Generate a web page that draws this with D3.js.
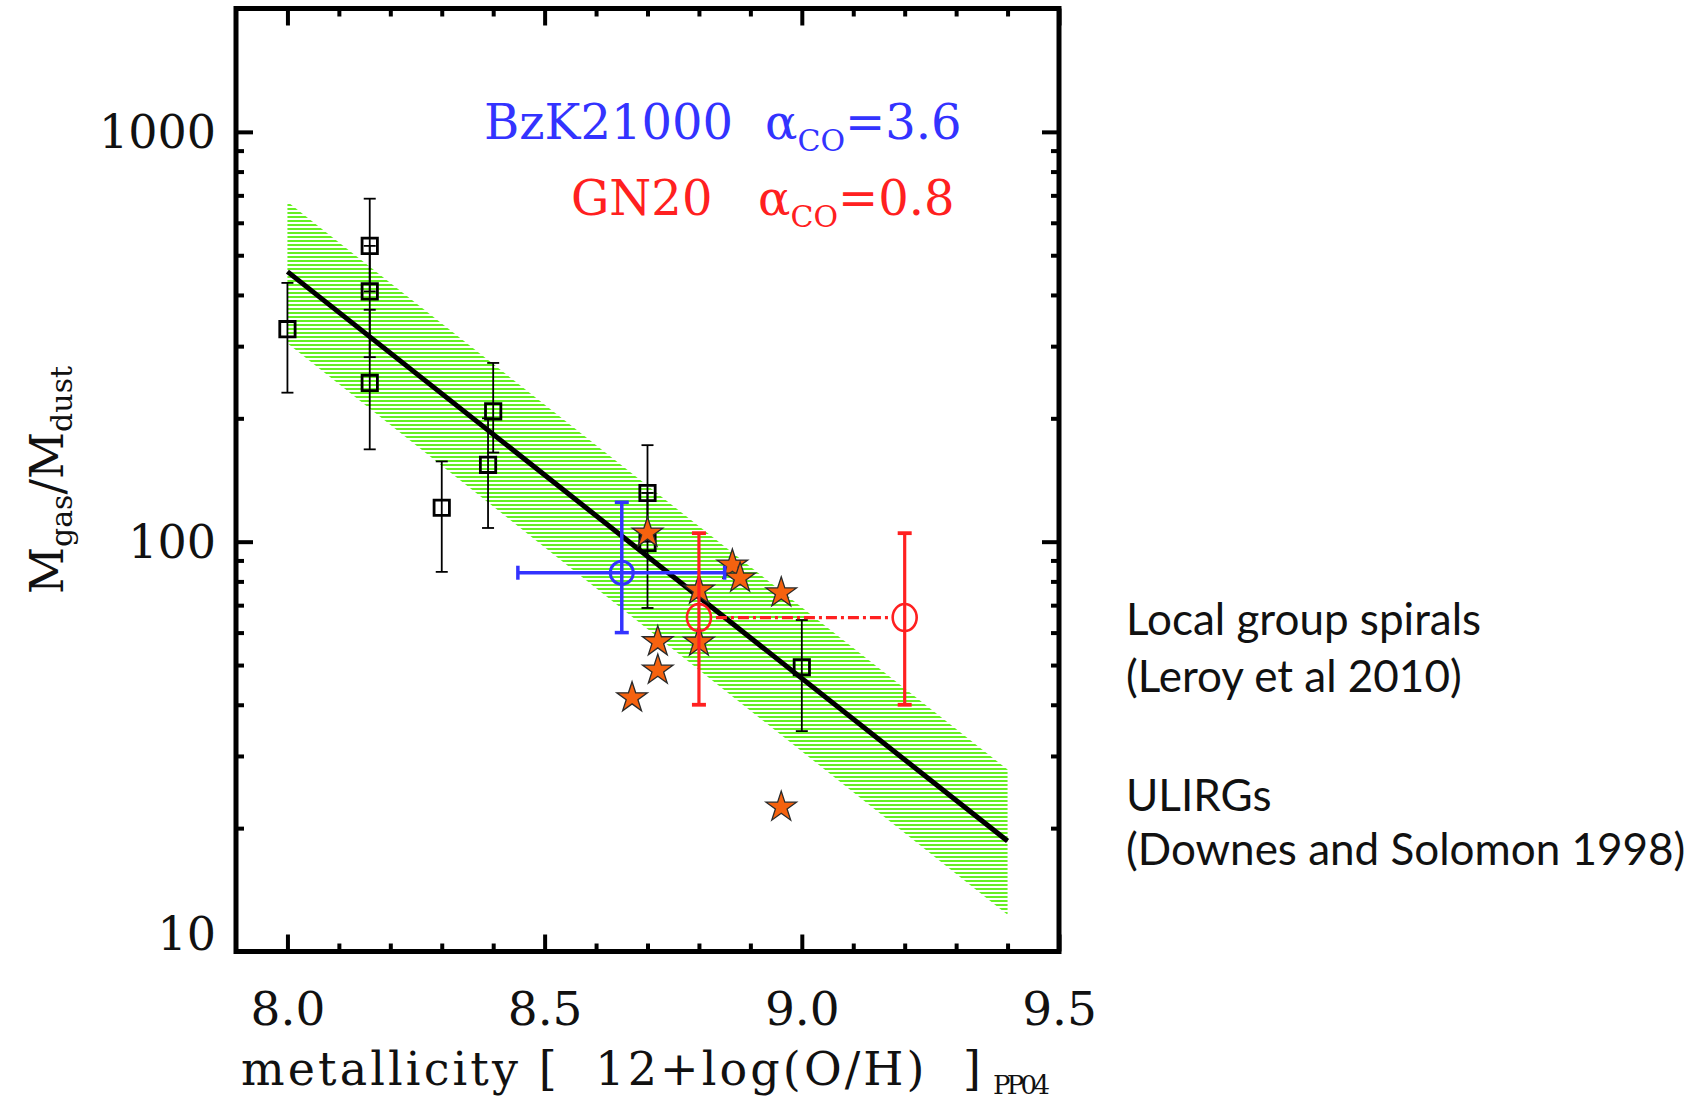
<!DOCTYPE html>
<html>
<head>
<meta charset="utf-8">
<script src="https://cdn.jsdelivr.net/npm/d3@7"></script>
<style>
body { margin: 0; background: #fff; }
</style>
</head>
<body>
<div id="main-chart"></div>
<script>
// local group spirals (Leroy et al 2010): metallicity, ratio, error bar ends
const spiralZ = [8.00, 8.16, 8.16, 8.16, 8.30, 8.40, 8.39, 8.70, 8.70, 9.00]
const spiralRatio = [330, 527, 408, 244, 121, 208, 154, 131.5, 99.3, 49.4]
const spiralLow = [231, 408, 282, 168, 84.4, 165, 108, 100, 68.9, 34.5]
const spiralHigh = [428, 687, 527, 368, 157, 273, 200, 172, 131.5, 64.4]

// ULIRGs (Downes and Solomon 1998)
const ulirgZ = [8.70, 8.865, 8.88, 8.96, 8.80, 8.72, 8.80, 8.72, 8.67, 8.96]
const ulirgRatio = [105, 87.7, 81.5, 75, 76.2, 57, 56.9, 48.6, 41.6, 22.5]

// BzK21000 and GN20
const bzkZ = [8.65]
const bzkRatio = [84]
const bzkZErr = [8.448, 8.850]
const bzkRatioErr = [60.0, 124.8]
const gn20Z = [8.80, 9.20]
const gn20Ratio = [65.3, 65.3]
const gn20RatioErr = [40.0, 104.9]

// fit line and its scatter band
const fitZ = [8.0, 9.4]
const fitRatio = [456, 18.6]
const bandUpper = [675, 27.8]
const bandLower = [305, 12.3]

const xMajor = [8.0, 8.5, 9.0, 9.5]
const yMajor = [10, 100, 1000]
const yLabels = ["10", "100", "1000"]

const margin = {top: 8.5, left: 236, right: 1059, bottom: 951.5}
const serif = "DejaVu Serif"
const blue = "#3333ff"
const red = "#ff2020"
const green = "#66f022"

const svg = d3.select("#main-chart")
    .append("svg")
    .attr("width", 1706)
    .attr("height", 1101)

const x = d3.scaleLinear().domain([7.9, 9.5]).range([margin.left, margin.right])
const y = d3.scaleLog().domain([10, 2000]).range([margin.bottom, margin.top])

// hatch pattern for the band
svg.append("defs").append("pattern")
    .attr("id", "hatch")
    .attr("patternUnits", "userSpaceOnUse")
    .attr("width", 20)
    .attr("height", 4)
  .append("rect")
    .attr("width", 20)
    .attr("height", 2)
    .attr("fill", green)

const bandPts = [
    [x(fitZ[0]), y(bandUpper[0])],
    [x(fitZ[1]), y(bandUpper[1])],
    [x(fitZ[1]), y(bandLower[1])],
    [x(fitZ[0]), y(bandLower[0])]
]
svg.append("path")
    .attr("d", d3.line()(bandPts) + "Z")
    .attr("fill", "url(#hatch)")

// fit line
svg.append("path")
    .attr("d", d3.line()(fitZ.map((z, i) => [x(z), y(fitRatio[i])])))
    .attr("stroke", "black")
    .attr("stroke-width", 5)
    .attr("fill", "none")

// error bars of the spirals
const cap = 6
spiralZ.forEach(function(z, i) {
    const g = svg.append("g").attr("stroke", "black").attr("stroke-width", 1.8)
    g.append("line").attr("x1", x(z)).attr("x2", x(z)).attr("y1", y(spiralLow[i])).attr("y2", y(spiralHigh[i]))
    g.append("line").attr("x1", x(z) - cap).attr("x2", x(z) + cap).attr("y1", y(spiralLow[i])).attr("y2", y(spiralLow[i]))
    g.append("line").attr("x1", x(z) - cap).attr("x2", x(z) + cap).attr("y1", y(spiralHigh[i])).attr("y2", y(spiralHigh[i]))
})

svg.selectAll("spiral")
    .data(spiralZ)
    .enter()
    .append("path")
    .attr("d", d3.symbol().type(d3.symbolSquare).size(235))
    .attr("transform", (d, i) => `translate(${x(d)},${y(spiralRatio[i])})`)
    .attr("fill", "none")
    .attr("stroke", "black")
    .attr("stroke-width", 2.8)

// ULIRG stars
svg.selectAll("ulirg")
    .data(ulirgZ)
    .enter()
    .append("path")
    .attr("d", d3.symbol().type(d3.symbolStar).size(290))
    .attr("transform", (d, i) => `translate(${x(d)},${y(ulirgRatio[i])})`)
    .attr("fill", "#f5620f")
    .attr("stroke", "#2a2a2a")
    .attr("stroke-width", 1.3)

// BzK21000
const bz = svg.append("g").attr("stroke", blue).attr("stroke-width", 3.5).attr("fill", "none")
bz.append("line").attr("x1", x(bzkZErr[0])).attr("x2", x(bzkZErr[1])).attr("y1", y(bzkRatio[0])).attr("y2", y(bzkRatio[0]))
bz.append("line").attr("x1", x(bzkZ[0])).attr("x2", x(bzkZ[0])).attr("y1", y(bzkRatioErr[0])).attr("y2", y(bzkRatioErr[1]))
bzkZErr.forEach(function(z) {
    bz.append("line").attr("x1", x(z)).attr("x2", x(z)).attr("y1", y(bzkRatio[0]) - 7).attr("y2", y(bzkRatio[0]) + 7)
})
bzkRatioErr.forEach(function(r) {
    bz.append("line").attr("x1", x(bzkZ[0]) - 7).attr("x2", x(bzkZ[0]) + 7).attr("y1", y(r)).attr("y2", y(r))
})
bz.append("circle").attr("cx", x(bzkZ[0])).attr("cy", y(bzkRatio[0])).attr("r", 11.5).attr("stroke-width", 3)

// GN20
const gn = svg.append("g").attr("stroke", red).attr("stroke-width", 3.2).attr("fill", "none")
gn.append("line")
    .attr("x1", x(gn20Z[0]) + 17).attr("x2", x(gn20Z[1]) - 13)
    .attr("y1", y(gn20Ratio[0])).attr("y2", y(gn20Ratio[1]))
    .attr("stroke-dasharray", "11,4,3,4")
gn20Z.forEach(function(z, i) {
    gn.append("line").attr("x1", x(z)).attr("x2", x(z)).attr("y1", y(gn20RatioErr[0])).attr("y2", y(gn20RatioErr[1]))
    gn20RatioErr.forEach(function(r) {
        gn.append("line").attr("x1", x(z) - 7).attr("x2", x(z) + 7).attr("y1", y(r)).attr("y2", y(r)).attr("stroke-width", 3.8)
    })
    gn.append("ellipse").attr("cx", x(z)).attr("cy", y(gn20Ratio[i])).attr("rx", 12).attr("ry", 13.5).attr("stroke-width", 2.6)
})

// axes: ticks inward on all four sides
const xMinor = x.ticks(16).filter(d => d > 7.95 && xMajor.indexOf(+d.toFixed(1)) < 0)
const yMinor = y.ticks().filter(d => d < 1990 && yMajor.indexOf(d) < 0)

function tickStyle(g) {
    g.select(".domain").remove()
    g.selectAll("line").attr("stroke", "black").attr("stroke-width", 4)
}

svg.append("g")
    .attr("transform", `translate(0,${margin.bottom})`)
    .call(d3.axisBottom(x).tickValues(xMajor).tickSize(-17).tickPadding(40).tickFormat(d3.format(".1f")))
    .call(tickStyle)
    .call(g => g.selectAll("text").attr("font-family", serif).attr("font-size", 47).attr("fill", "#111"))
svg.append("g")
    .attr("transform", `translate(0,${margin.bottom})`)
    .call(d3.axisBottom(x).tickValues(xMinor).tickSize(-8).tickFormat(""))
    .call(tickStyle)
svg.append("g")
    .attr("transform", `translate(0,${margin.top})`)
    .call(d3.axisTop(x).tickValues(xMajor).tickSize(-17).tickFormat(""))
    .call(tickStyle)
svg.append("g")
    .attr("transform", `translate(0,${margin.top})`)
    .call(d3.axisTop(x).tickValues(xMinor).tickSize(-8).tickFormat(""))
    .call(tickStyle)

svg.append("g")
    .attr("transform", `translate(${margin.left},0)`)
    .call(d3.axisLeft(y).tickValues(yMajor).tickSize(-17).tickPadding(20).tickFormat((d, i) => yLabels[i]))
    .call(tickStyle)
    .call(g => g.selectAll("text").attr("font-family", serif).attr("font-size", 46).attr("fill", "#111")
        .attr("dy", d => d === 10 ? "-0.05em" : "0.35em"))
svg.append("g")
    .attr("transform", `translate(${margin.left},0)`)
    .call(d3.axisLeft(y).tickValues(yMinor).tickSize(-8).tickFormat(""))
    .call(tickStyle)
svg.append("g")
    .attr("transform", `translate(${margin.right},0)`)
    .call(d3.axisRight(y).tickValues(yMajor).tickSize(-17).tickFormat(""))
    .call(tickStyle)
svg.append("g")
    .attr("transform", `translate(${margin.right},0)`)
    .call(d3.axisRight(y).tickValues(yMinor).tickSize(-8).tickFormat(""))
    .call(tickStyle)

// frame
svg.append("rect")
    .attr("x", margin.left)
    .attr("y", margin.top)
    .attr("width", margin.right - margin.left)
    .attr("height", margin.bottom - margin.top)
    .attr("fill", "none")
    .attr("stroke", "black")
    .attr("stroke-width", 5)

// axis titles
svg.append("text")
    .text("metallicity [  12+log(O/H)  ]")
    .attr("x", 241)
    .attr("y", 1085)
    .attr("font-family", serif)
    .attr("font-size", 46)
    .attr("textLength", 740)
    .attr("xml:space", "preserve")
    .attr("fill", "#111")
svg.append("text")
    .text("PP04")
    .attr("x", 993)
    .attr("y", 1094)
    .attr("font-family", serif)
    .attr("font-size", 26)
    .attr("textLength", 57)
    .attr("fill", "#111")

const ytitle = svg.append("text")
    .attr("transform", "translate(63,480) rotate(-90)")
    .attr("text-anchor", "middle")
    .attr("font-family", serif)
    .attr("font-size", 46)
    .attr("fill", "#111")
ytitle.append("tspan").text("M")
ytitle.append("tspan").text("gas").attr("font-size", 30).attr("dy", 9)
ytitle.append("tspan").text("/").attr("dy", -9)
ytitle.append("tspan").text("M")
ytitle.append("tspan").text("dust").attr("font-size", 30).attr("dy", 9)

// legend labels inside the plot
function label(txt, xs, ya, color) {
    const t = svg.append("text")
        .attr("x", xs[0])
        .attr("y", ya)
        .attr("font-family", serif)
        .attr("font-size", 48)
        .attr("fill", color)
    t.append("tspan").text(txt)
    t.append("tspan").text("\u03b1").attr("x", xs[1])
    t.append("tspan").text("CO").attr("font-size", 30).attr("dy", 12)
    t.append("tspan").text(color === blue ? "=3.6" : "=0.8").attr("dy", -12)
}
label("BzK21000", [484, 765], 139, blue)
label("GN20", [571, 758], 215, red)

// notes on the right
const notes = [
    ["Local group spirals", 635],
    ["(Leroy et al 2010)", 692],
    ["ULIRGs", 811],
    ["(Downes and Solomon 1998)", 865]
]
svg.selectAll("note")
    .data(notes)
    .enter()
    .append("text")
    .text(d => d[0])
    .attr("x", 1126)
    .attr("y", d => d[1])
    .attr("font-family", "Lato")
    .attr("font-size", 44)
    .attr("fill", "#111")
</script>
</body>
</html>
